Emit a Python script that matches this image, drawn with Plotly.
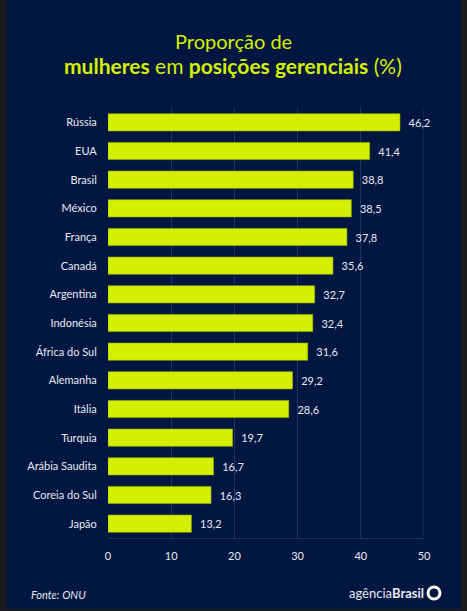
import plotly.graph_objects as go

countries = ["Rússia", "EUA", "Brasil", "México", "França", "Canadá", "Argentina",
             "Indonésia", "África do Sul", "Alemanha", "Itália", "Turquia",
             "Arábia Saudita", "Coreia do Sul", "Japão"]
values = [46.2, 41.4, 38.8, 38.5, 37.8, 35.6, 32.7, 32.4, 31.6, 29.2, 28.6, 19.7, 16.7, 16.3, 13.2]
x_ticks = [0, 10, 20, 30, 40, 50]

NAVY = "#011641"
LIME = "#d4ef00"
GRID = "#1d3566"
TXT = "#e6e9f0"

W, H = 467, 611
L, R, T, B = 108, 43, 108, 73
pw, ph = W - L - R, H - T - B

def px(x):
    return (x - L) / pw

def py(y):
    return (H - B - y) / ph

fig = go.Figure(go.Bar(
    x=values, y=countries, orientation="h",
    marker=dict(color=LIME, line=dict(color="#9fb300", width=0.6)),
    width=0.6,
    text=["\u00a0\u00a0" + f"{v:.1f}".replace(".", ",") for v in values],
    textposition="outside",
    textfont=dict(color=TXT, size=11, family="Lato"),
    cliponaxis=False,
    hoverinfo="skip",
))

fig.update_layout(
    width=W, height=H,
    margin=dict(l=L, r=R, t=T, b=B),
    paper_bgcolor="#1b1b1d",
    plot_bgcolor="rgba(0,0,0,0)",
    showlegend=False,
    separators=",.",
    font=dict(family="Lato", color=TXT),
    xaxis=dict(range=[0, 50], tickvals=x_ticks, showgrid=True, gridcolor=GRID,
               gridwidth=1, zeroline=False, showline=True, linecolor=GRID,
               mirror=False, tickfont=dict(size=11, color=TXT), ticks="",
               ticklabelstandoff=8, fixedrange=True),
    yaxis=dict(categoryorder="array", categoryarray=countries[::-1],
               range=[-0.5, 14.5], showgrid=False, zeroline=False,
               tickfont=dict(size=11, color=TXT), ticks="outside",
               ticklen=8, tickcolor="rgba(0,0,0,0)", fixedrange=True),
    bargap=0.4,
    shapes=[
        dict(type="rect", xref="paper", yref="paper", layer="below",
             x0=px(7), x1=px(461), y0=py(609), y1=py(0),
             fillcolor=NAVY, line=dict(width=0)),
        dict(type="line", xref="x", yref="paper", x0=50, x1=50, y0=0, y1=1,
             line=dict(color=GRID, width=1), layer="below"),
        dict(type="circle", xref="paper", yref="paper",
             x0=px(428), x1=px(440), y0=py(599), y1=py(587),
             line=dict(color="white", width=3), fillcolor=NAVY),
    ],
    annotations=[
        dict(xref="paper", yref="paper", x=px(233), y=py(41), xanchor="center",
             yanchor="middle", showarrow=False,
             text="Proporção de",
             font=dict(size=20, color=LIME, family="Lato")),
        dict(xref="paper", yref="paper", x=px(233), y=py(66), xanchor="center",
             yanchor="middle", showarrow=False,
             text="<b>mulheres</b> em <b>posições gerenciais</b> (%)",
             font=dict(size=21, color=LIME, family="Lato")),
        dict(xref="paper", yref="paper", x=px(29), y=py(594), xanchor="left",
             yanchor="middle", showarrow=False,
             text="<i>Fonte: ONU</i>",
             font=dict(size=11, color=TXT, family="Lato")),
        dict(xref="paper", yref="paper", x=px(426), y=py(593), xanchor="right",
             yanchor="middle", showarrow=False,
             text="agência<b>Brasil</b>",
             font=dict(size=13, color=TXT, family="Lato")),
    ],
)

fig.write_html(
    "out.html",
    config={"displayModeBar": False},
    post_script="document.body.style.margin='0';document.body.style.background='#1b1b1d';",
)
